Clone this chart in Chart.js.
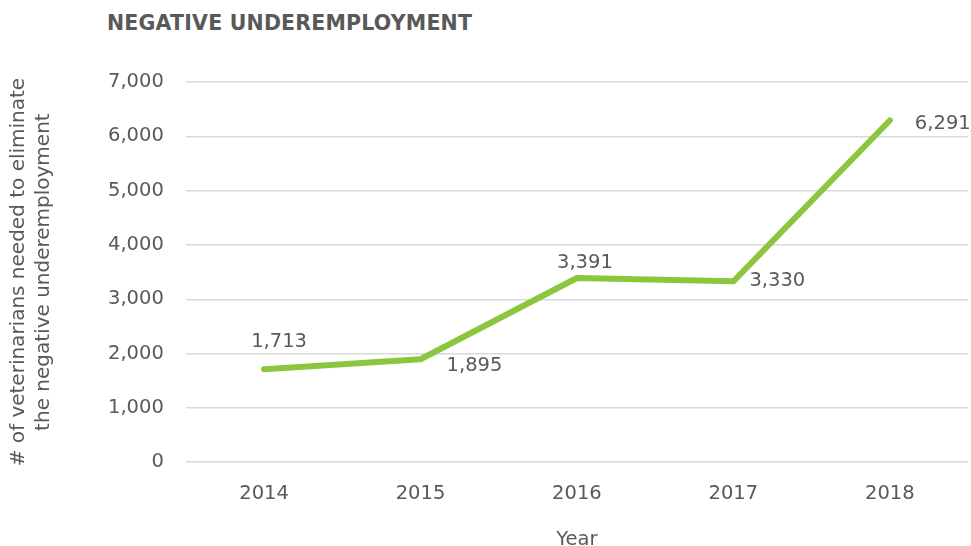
<!DOCTYPE html>
<html>
<head>
<meta charset="utf-8">
<script src="https://cdn.jsdelivr.net/npm/chart.js@4"></script>
<style>
  html, body { margin: 0; padding: 0; background: #fff; }
  #wrap { position: relative; width: 971px; height: 546px; }
  h1 {
    position: absolute; left: 107px; top: 11px; margin: 0;
    font: bold 20.5px "DejaVu Sans", sans-serif; color: #595959;
    letter-spacing: 0.2px;
  }
  canvas { position: absolute; left: 0; top: 0; }
</style>
</head>
<body>
<div id="wrap">
  <h1>NEGATIVE UNDEREMPLOYMENT</h1>
  <canvas id="chart" width="971" height="546"></canvas>
</div>
<script>
const years = ['2014', '2015', '2016', '2017', '2018'];
const vetsNeeded = [1713, 1895, 3391, 3330, 6291];
const yTitle = ['# of veterinarians needed to eliminate', 'the negative underemployment'];
const xTitle = 'Year';

// where each value label sits relative to its point
const labelOffsets = [[15, -27], [54, 7], [8, -15], [44, 0], [53, 3]];

const grey = '#595959';
const font = { family: 'DejaVu Sans', size: 19.5 };

const valueLabels = {
  id: 'valueLabels',
  afterDatasetsDraw(chart) {
    const ctx = chart.ctx;
    const meta = chart.getDatasetMeta(0);
    ctx.save();
    ctx.font = '19.5px "DejaVu Sans"';
    ctx.fillStyle = grey;
    ctx.textAlign = 'center';
    ctx.textBaseline = 'middle';
    meta.data.forEach((pt, i) => {
      const [dx, dy] = labelOffsets[i];
      ctx.fillText(vetsNeeded[i].toLocaleString('en-US'), pt.x + dx, pt.y + dy);
    });
    ctx.restore();
  }
};

new Chart(document.getElementById('chart').getContext('2d'), {
  type: 'line',
  data: {
    labels: years,
    datasets: [{
      data: vetsNeeded,
      borderColor: '#8cc63f',
      borderWidth: 6,
      borderCapStyle: 'round',
      borderJoinStyle: 'round',
      pointRadius: 0,
      fill: false,
      tension: 0
    }]
  },
  options: {
    responsive: false,
    animation: false,
    layout: { padding: { top: 82, right: 3, left: 6, bottom: -6 } },
    plugins: {
      legend: { display: false },
      tooltip: { enabled: false }
    },
    scales: {
      x: {
        offset: true,
        grid: { display: false, drawTicks: false },
        border: { display: false },
        ticks: { color: grey, font: font, padding: 20 },
        title: { display: true, text: xTitle, color: grey, font: font, padding: { top: 3, bottom: 0 } }
      },
      y: {
        min: 0,
        max: 7000,
        ticks: {
          stepSize: 1000,
          color: grey,
          font: font,
          padding: 22,
          callback: v => v.toLocaleString('en-US')
        },
        grid: { color: '#d9d9d9', lineWidth: 1.5, drawTicks: false },
        border: { display: false },
        title: {
          display: true, text: yTitle, color: grey,
          font: { family: 'DejaVu Sans', size: 20, lineHeight: 1.25 },
          padding: { top: 0, bottom: 30 }
        }
      }
    }
  },
  plugins: [valueLabels]
});
</script>
</body>
</html>
